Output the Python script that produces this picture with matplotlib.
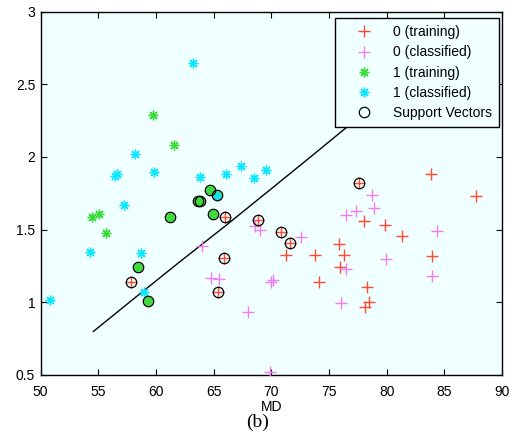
import matplotlib
matplotlib.use("Agg")
import matplotlib.pyplot as plt
from matplotlib.patches import Rectangle

# ---- data ----
train0_x = [83.85, 87.75, 78.01, 79.86, 81.36, 75.90, 71.27, 73.82, 76.31, 75.96, 74.16, 78.33, 78.50, 78.07, 83.96]
train0_y = [1.884, 1.728, 1.561, 1.533, 1.458, 1.403, 1.325, 1.325, 1.325, 1.240, 1.143, 1.105, 0.999, 0.971, 1.320]
sv0_x = [66.01, 68.87, 57.83, 65.90, 65.35, 70.87, 71.60, 77.55]
sv0_y = [1.590, 1.568, 1.140, 1.304, 1.070, 1.487, 1.408, 1.820]

class0_x = [64.02, 68.59, 69.02, 64.74, 65.49, 67.95, 70.17, 69.97, 69.89, 78.76, 78.93, 77.35, 76.48,
            72.58, 84.35, 79.92, 76.48, 83.91, 76.02]
class0_y = [1.384, 1.522, 1.499, 1.167, 1.160, 0.933, 1.150, 1.137, 0.517, 1.738, 1.648, 1.625, 1.600,
            1.446, 1.492, 1.300, 1.228, 1.178, 0.995]

train1_x = [59.77, 61.56, 54.41, 55.06, 55.66]
train1_y = [2.286, 2.082, 1.590, 1.607, 1.480]
sv1_x = [63.62, 63.78, 64.71, 65.32, 61.24, 64.94, 58.41, 59.28]
sv1_y = [1.694, 1.694, 1.770, 1.740, 1.590, 1.607, 1.245, 1.008]

class1_x = [63.24, 58.15, 56.44, 56.60, 59.85, 63.82, 66.04, 67.37, 68.53, 69.54, 57.25, 54.28, 58.67,
            50.80, 58.96, 65.26]
class1_y = [2.650, 2.022, 1.866, 1.880, 1.896, 1.862, 1.884, 1.939, 1.855, 1.907, 1.671, 1.345, 1.339,
            1.017, 1.074, 1.733]

boundary_x = [54.56, 58.0, 62.0, 66.0, 69.88, 73.0, 76.97, 79.0]
boundary_y = [0.799, 1.020, 1.275, 1.525, 1.774, 1.975, 2.233, 2.365]

xticks = [50, 55, 60, 65, 70, 75, 80, 85, 90]
yticks = [0.5, 1, 1.5, 2, 2.5, 3]

# ---- style ----
RED = "#ff4a33"
MAG = "#f07ef0"
GRN = "#3ddc3d"
CYN = "#11e6ff"
BG = "#f0ffff"
plt.rcParams['font.family'] = ['Liberation Sans', 'DejaVu Sans']

fig = plt.figure(figsize=(5.15, 4.36), dpi=100)
ax = fig.add_axes([0.079, 0.140, 0.896, 0.8333])
ax.set_facecolor(BG)

ax.plot(boundary_x, boundary_y, color="black", lw=1.0, zorder=2)

star = (8, 2, 0)
h0, = ax.plot(train0_x + sv0_x, train0_y + sv0_y, ls="none", marker="+", ms=9, mew=1.0, color=RED, zorder=3,
              label="0 (training)")
h1, = ax.plot(class0_x, class0_y, ls="none", marker="+", ms=9, mew=1.0, color=MAG, zorder=3,
              label="0 (classified)")
# filled discs behind green support vectors
ax.plot(sv1_x, sv1_y, ls="none", marker="o", ms=6.5, mfc=GRN, mec="none", zorder=3)
h2, = ax.plot(train1_x + sv1_x, train1_y + sv1_y, ls="none", marker=star, ms=7, mew=1.0, color=GRN, zorder=3,
              label="1 (training)")
h3, = ax.plot(class1_x, class1_y, ls="none", marker=star, ms=7, mew=1.0, color=CYN, zorder=4,
              label="1 (classified)")
h4, = ax.plot(sv0_x + sv1_x, sv0_y + sv1_y, ls="none", marker="o", ms=7.5, mfc="none", mec="black", mew=0.9,
              zorder=5, label="Support Vectors")

ax.set_xlim(50, 90)
ax.set_ylim(0.5, 3)
ax.set_xticks(xticks)
ax.set_xticklabels([str(t) for t in xticks])
ax.set_yticks(yticks)
ax.set_yticklabels(["0.5", "1", "1.5", "2", "2.5", "3"])
ax.tick_params(direction="in", top=True, right=True, length=4, width=0.8, labelsize=10)
ax.tick_params(axis="x", pad=7)
ax.tick_params(axis="y", pad=4)
for s in ax.spines.values():
    s.set_linewidth(1.0)

ax.set_xlabel("MD", fontsize=10, labelpad=1)

leg = ax.legend(handles=[h0, h1, h2, h3, h4], loc="upper right", bbox_to_anchor=(0.993, 0.982),
                fontsize=10, frameon=True, fancybox=False, edgecolor="black", facecolor=BG,
                framealpha=1, borderpad=0.5, labelspacing=0.45, handlelength=3.1, handletextpad=0.55,
                borderaxespad=0)
leg.get_frame().set_linewidth(1.0)
leg.set_zorder(10)

# white strip clipping the bottom of the label, then panel caption
fig.patches.append(Rectangle((0, 0), 1, 25 / 436, transform=fig.transFigure, facecolor="white",
                             edgecolor="none", zorder=5))
fig.text(0.5, 14 / 436, "(b)", ha="center", va="center", fontsize=14,
         family=["Liberation Serif", "DejaVu Serif"], zorder=6)

fig.savefig("out.png", dpi=100)
